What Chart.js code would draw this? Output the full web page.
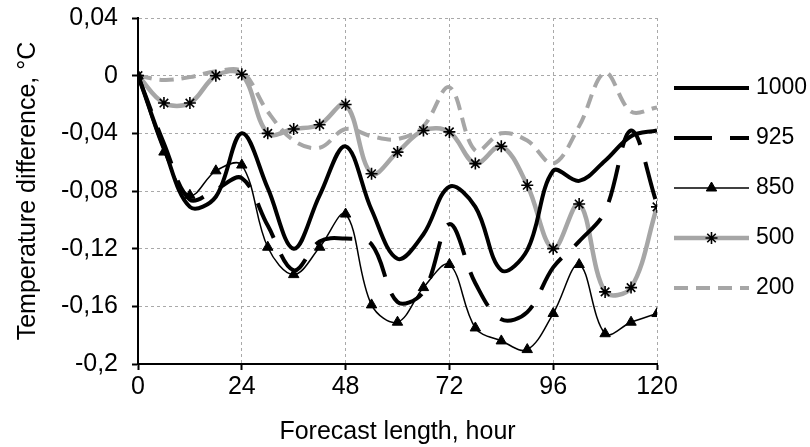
<!DOCTYPE html>
<html><head><meta charset="utf-8">
<script src="https://cdn.jsdelivr.net/npm/chart.js@4.4.0/dist/chart.umd.min.js"></script>
<style>html,body{margin:0;padding:0;background:#fff;overflow:hidden;}#wrap{width:810px;height:447px;position:relative;overflow:hidden;}#c{position:absolute;left:0;top:-11px;}</style>
</head><body><div id="wrap"><canvas id="c" width="810" height="458"></canvas></div>
<script>
// ---- data ----
const hours = [0,6,12,18,24,30,36,42,48,54,60,66,72,78,84,90,96,102,108,114,120];
const seriesNames = ['1000','925','850','500','200'];
const s1000 = [0,-0.050,-0.091,-0.084,-0.040,-0.078,-0.120,-0.083,-0.049,-0.093,-0.127,-0.110,-0.077,-0.091,-0.135,-0.121,-0.066,-0.073,-0.059,-0.042,-0.038];
const s925  = [0,-0.047,-0.086,-0.079,-0.071,-0.104,-0.135,-0.115,-0.113,-0.117,-0.157,-0.150,-0.103,-0.144,-0.169,-0.164,-0.133,-0.115,-0.094,-0.038,-0.089];
const s850  = [0,-0.053,-0.083,-0.066,-0.062,-0.119,-0.138,-0.119,-0.096,-0.159,-0.171,-0.147,-0.131,-0.175,-0.184,-0.190,-0.165,-0.131,-0.179,-0.171,-0.165];
const s500  = [0,-0.019,-0.019,0.000,0.001,-0.040,-0.037,-0.034,-0.020,-0.068,-0.053,-0.038,-0.039,-0.061,-0.049,-0.076,-0.120,-0.089,-0.150,-0.147,-0.091];
const s200  = [0,-0.003,-0.001,0.003,0.003,-0.025,-0.045,-0.050,-0.037,-0.042,-0.044,-0.035,-0.008,-0.052,-0.040,-0.045,-0.061,-0.035,0.002,-0.025,-0.022];
const xTickValues = [0,24,48,72,96,120];
const xTickLabels = ['0','24','48','72','96','120'];
const yTickValues = [0.04,0,-0.04,-0.08,-0.12,-0.16,-0.2];
const yTickLabels = ['0,04','0','-0,04','-0,08','-0,12','-0,16','-0,2'];
const xTitle = 'Forecast length, hour';
const yTitle = 'Temperature difference, °C';

// ---- chart ----
const FONT = 'Liberation Sans, Arial, sans-serif';
Chart.defaults.font.family = FONT;
Chart.defaults.color = '#000';
const SHIFT = 11; // canvas is offset upward by this many px

function pts(arr){ return hours.map((h,i)=>({x:h,y:arr[i]})); }

const styles = [
  {borderColor:'#000', borderWidth:4, borderDash:[], pointRadius:0},
  {borderColor:'#000', borderWidth:4, borderDash:[38,18], pointRadius:0},
  {borderColor:'#000', borderWidth:1.5, borderDash:[], pointRadius:6, pointStyle:'triangle', pointBackgroundColor:'#000', pointBorderColor:'#000', pointBorderWidth:1},
  {borderColor:'#a6a6a6', borderWidth:4.5, borderDash:[], pointRadius:6, pointStyle:'star', pointBackgroundColor:'#000', pointBorderColor:'#000', pointBorderWidth:1.6},
  {borderColor:'#a6a6a6', borderWidth:4, borderDash:[14,8], pointRadius:0}
];
const allSeries = [s1000,s925,s850,s500,s200];

const datasets = allSeries.map((s,i)=>Object.assign({
  label: seriesNames[i],
  data: pts(s),
  tension: 0.36,
  fill:false,
  pointHoverRadius: styles[i].pointRadius,
  borderCapStyle:'butt'
}, styles[i]));

const legendPlugin = {
  id:'customLegend',
  afterDraw(chart){
    const ctx = chart.ctx;
    const x0 = 674, x1 = 749, tx = 756, y0 = 88 + SHIFT, dy = 50;
    chart.data.datasets.forEach((ds,i)=>{
      const y = y0 + i*dy;
      ctx.save();
      ctx.strokeStyle = ds.borderColor;
      ctx.lineWidth = ds.borderWidth;
      ctx.setLineDash(ds.borderDash || []);
      ctx.beginPath(); ctx.moveTo(x0,y); ctx.lineTo(x1,y); ctx.stroke();
      ctx.setLineDash([]);
      if (ds.pointRadius > 0) {
        ctx.fillStyle = ds.pointBackgroundColor;
        ctx.strokeStyle = ds.pointBorderColor;
        ctx.lineWidth = ds.pointBorderWidth;
        Chart.helpers.drawPoint(ctx, {pointStyle: ds.pointStyle, radius: ds.pointRadius, borderWidth: ds.pointBorderWidth, rotation:0}, (x0+x1)/2, y);
      }
      ctx.fillStyle = '#000';
      ctx.font = '23px ' + FONT;
      ctx.textBaseline = 'middle';
      ctx.textAlign = 'left';
      ctx.fillText(ds.label, tx, y);
      ctx.restore();
    });
  }
};

new Chart(document.getElementById('c'), {
  type:'line',
  data:{datasets},
  options:{
    responsive:false,
    animation:false,
    events:[],
    layout:{padding:{left:0,top:8,right:153,bottom:0}},
    plugins:{legend:{display:false}, tooltip:{enabled:false}},
    scales:{
      x:{
        type:'linear', min:0, max:120,
        afterFit(s){ s.height = 83; },
        afterBuildTicks(s){ s.ticks = xTickValues.map(v=>({value:v})); },
        ticks:{ font:{size:25}, color:'#000', padding:2, maxRotation:0, autoSkip:false,
          callback:(v)=>{ const i = xTickValues.indexOf(v); return i>=0 ? xTickLabels[i] : ''; } },
        grid:{ color:'#a9a9a9', lineWidth:1, tickColor:'#000', tickWidth:2, tickLength:6, tickBorderDash:[] },
        border:{ color:'#000', width:2, dash:[3,3] },
        title:{ display:true, text:xTitle, font:{size:25}, color:'#000', padding:{top:0,bottom:0} }
      },
      y:{
        type:'linear', min:-0.2, max:0.04,
        afterFit(s){ s.width = 138; },
        afterBuildTicks(s){ s.ticks = yTickValues.map(v=>({value:v})); },
        ticks:{ font:{size:25}, color:'#000', padding:14, autoSkip:false,
          callback:(v)=>{ let i = yTickValues.findIndex(t=>Math.abs(t-v)<1e-9); return i>=0 ? yTickLabels[i] : ''; } },
        grid:{ color:'#a9a9a9', lineWidth:1, tickColor:'#000', tickWidth:2, tickLength:6, tickBorderDash:[] },
        border:{ color:'#000', width:2, dash:[3,3] },
        title:{ display:true, text:yTitle, font:{size:25}, color:'#000', padding:{top:13,bottom:0} }
      }
    }
  },
  plugins:[legendPlugin]
});
</script>
</body></html>
